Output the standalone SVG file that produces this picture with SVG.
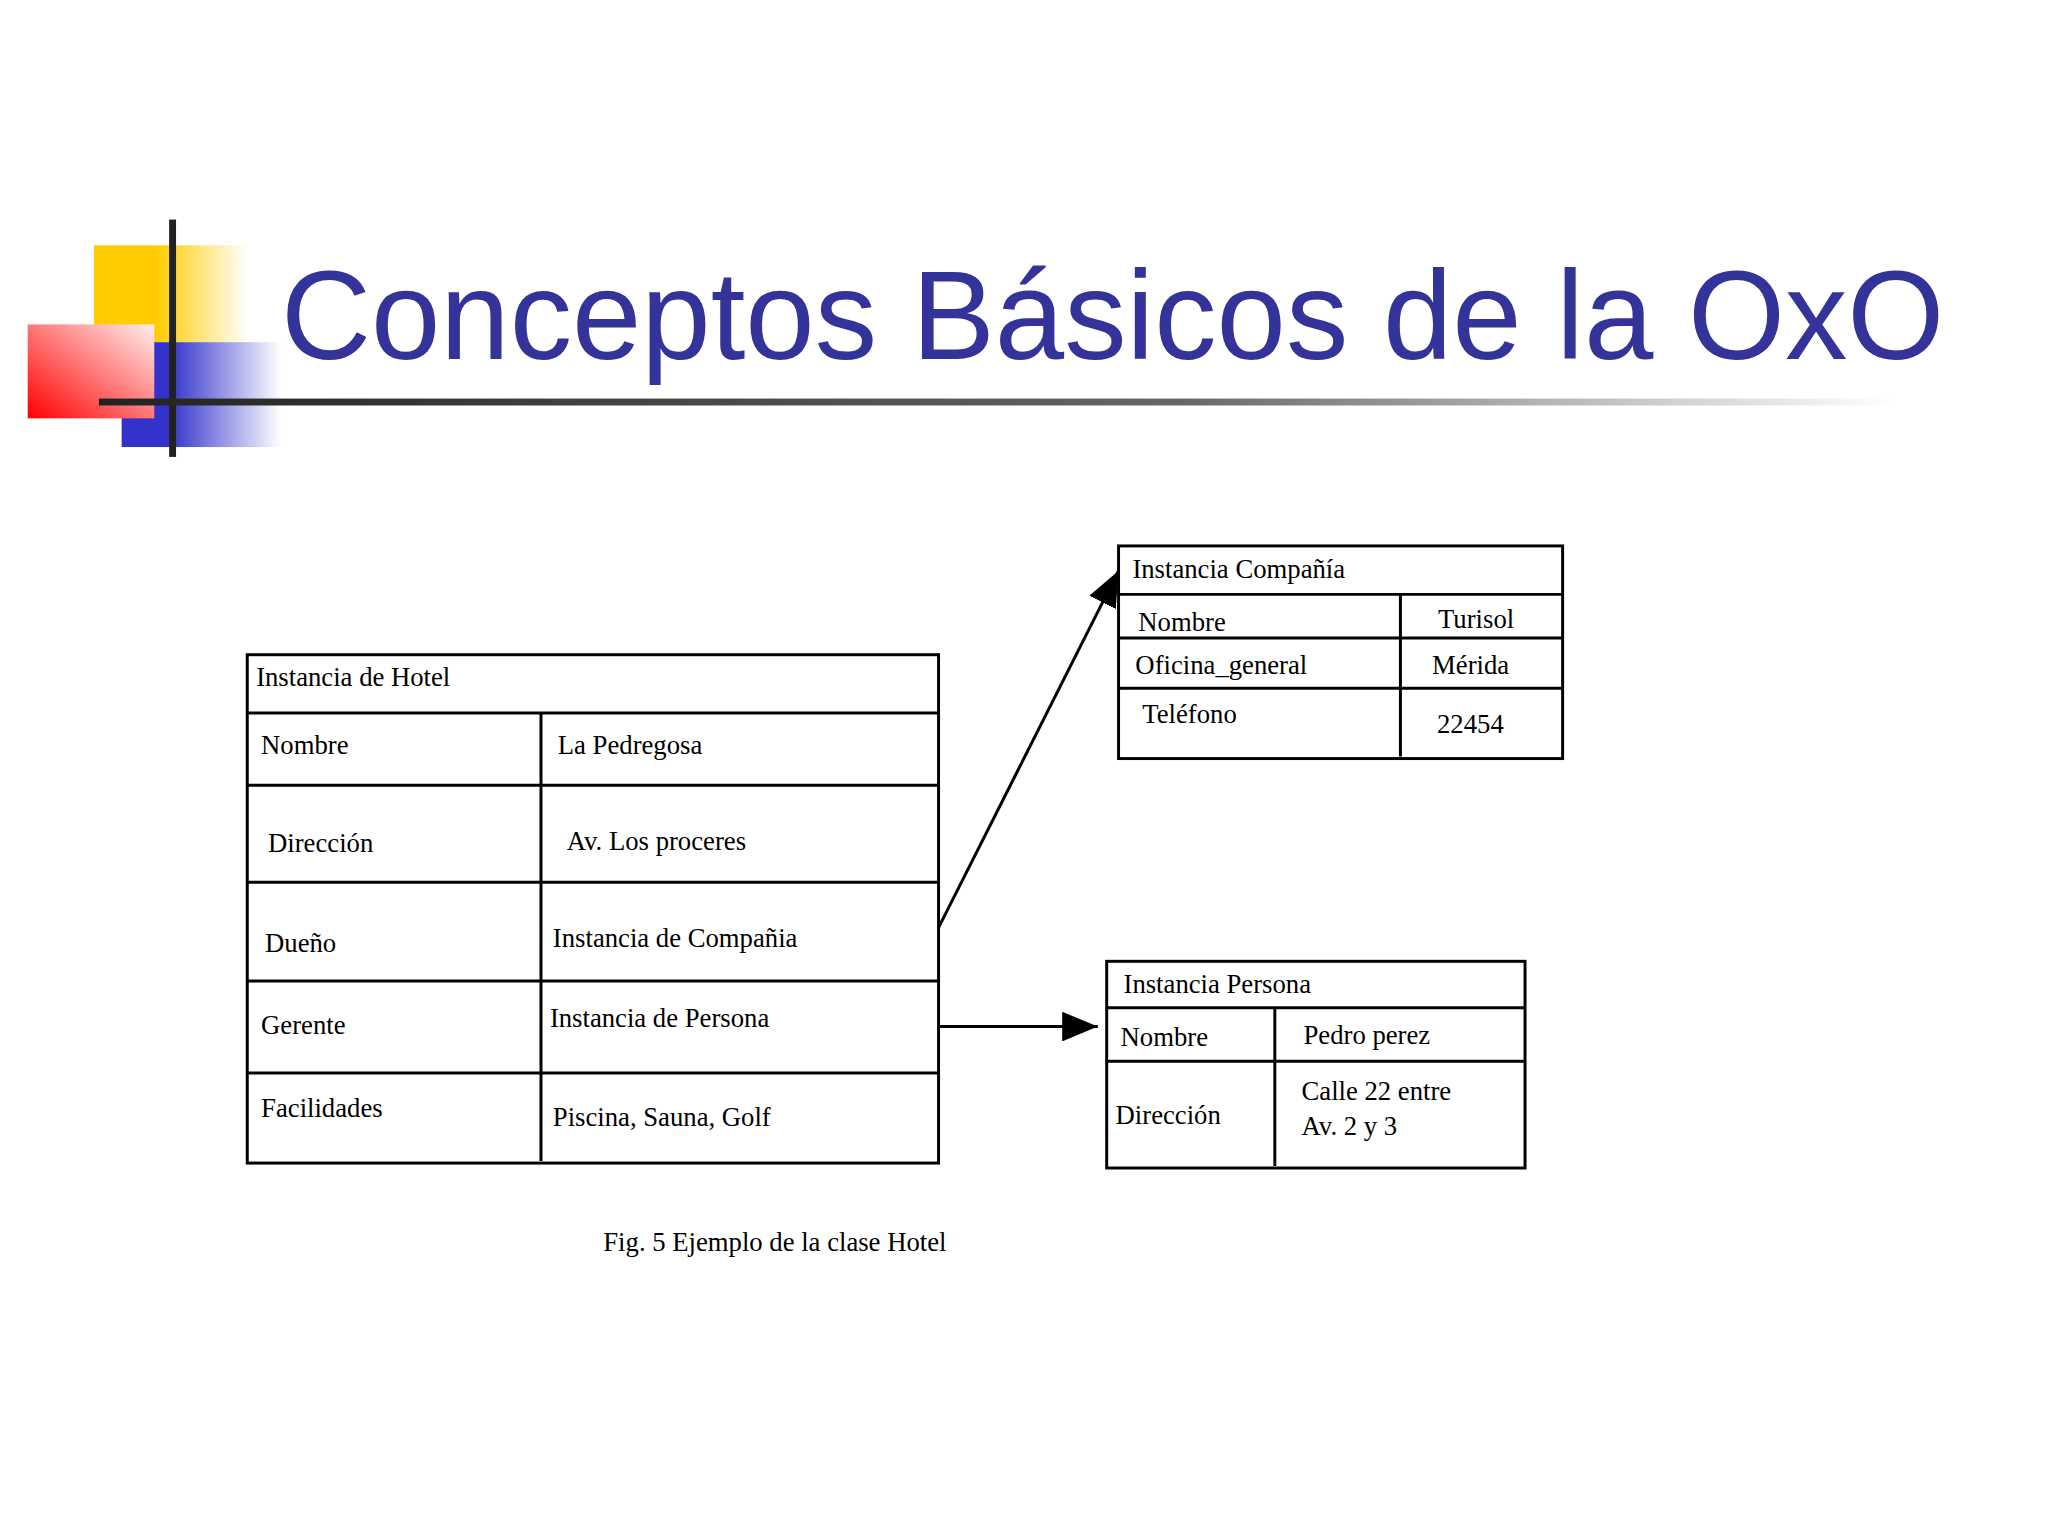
<svg xmlns="http://www.w3.org/2000/svg" width="2048" height="1536" viewBox="0 0 2048 1536">
<defs>
<linearGradient id="gy" x1="0" y1="0" x2="1" y2="0"><stop offset="0.4" stop-color="#ffcc00"/><stop offset="1" stop-color="#ffcc00" stop-opacity="0"/></linearGradient>
<linearGradient id="gb" x1="0" y1="0" x2="1" y2="0"><stop offset="0.3" stop-color="#3333cc"/><stop offset="1" stop-color="#3333cc" stop-opacity="0"/></linearGradient>
<linearGradient id="gr" x1="0" y1="1" x2="1" y2="0"><stop offset="0" stop-color="#ff0000"/><stop offset="1" stop-color="#ffeeee"/></linearGradient>
<linearGradient id="gl" x1="0" y1="0" x2="1" y2="0"><stop offset="0" stop-color="#222"/><stop offset="0.6" stop-color="#666"/><stop offset="1" stop-color="#fff"/></linearGradient>
<marker id="ah2" viewBox="0 0 10 10" refX="10" refY="5" markerWidth="36" markerHeight="30" markerUnits="userSpaceOnUse" orient="auto" preserveAspectRatio="none"><path d="M0,0 L10,5 L0,10 z" fill="#000"/></marker>
</defs>
<style>
.t{font-family:"Liberation Serif","Times New Roman",serif;font-size:27px;fill:#000}
.b{fill:#fff;stroke:#000;stroke-width:3}
.l{stroke:#000;stroke-width:3}
</style>
<rect width="2048" height="1536" fill="#fff"/>
<g transform="scale(0.989)">
<g id="logo">
<rect x="95" y="248" width="156" height="98" fill="url(#gy)"/>
<rect x="123" y="346" width="161" height="106" fill="url(#gb)"/>
<rect x="28" y="328" width="128" height="95" fill="url(#gr)"/>
<rect x="171" y="222" width="7" height="240" fill="#222"/>
<rect x="100" y="403" width="1816" height="7" fill="url(#gl)"/>
</g>
<text x="284" y="363" font-family="Liberation Sans, Arial, sans-serif" font-size="128" fill="#333399" textLength="1682" lengthAdjust="spacingAndGlyphs">Conceptos Básicos de la OxO</text>
<g id="hotel">
<rect class="b" x="250" y="662" width="699" height="514"/>
<path class="l" d="M250 721H949M250 794H949M250 892H949M250 992H949M250 1085H949M547 721V1174"/>
<text class="t" x="259" y="694">Instancia de Hotel</text>
<text class="t" x="264" y="762">Nombre</text><text class="t" x="564" y="762">La Pedregosa</text>
<text class="t" x="271" y="861">Dirección</text><text class="t" x="573" y="859">Av. Los proceres</text>
<text class="t" x="268" y="963">Dueño</text><text class="t" x="559" y="958">Instancia de Compañia</text>
<text class="t" x="264" y="1046">Gerente</text><text class="t" x="556" y="1038">Instancia de Persona</text>
<text class="t" x="264" y="1129">Facilidades</text><text class="t" x="559" y="1139">Piscina, Sauna, Golf</text>
</g>
<g id="compania">
<rect class="b" x="1131" y="552" width="449" height="215"/>
<path class="l" d="M1131 601H1580M1131 645H1580M1131 696H1580M1416 601V765"/>
<text class="t" x="1145" y="584">Instancia Compañía</text>
<text class="t" x="1151" y="638">Nombre</text><text class="t" x="1454" y="635">Turisol</text>
<text class="t" x="1148" y="682">Oficina_general</text><text class="t" x="1448" y="682">Mérida</text>
<text class="t" x="1155" y="731">Teléfono</text><text class="t" x="1453" y="741">22454</text>
</g>
<g id="persona">
<rect class="b" x="1119" y="972" width="423" height="209"/>
<path class="l" d="M1119 1019H1542M1119 1073H1542M1289 1019V1179"/>
<text class="t" x="1136" y="1004">Instancia Persona</text>
<text class="t" x="1133" y="1058">Nombre</text><text class="t" x="1318" y="1056">Pedro perez</text>
<text class="t" x="1128" y="1136">Dirección</text>
<text class="t" x="1316" y="1112">Calle 22 entre</text><text class="t" x="1316" y="1148">Av. 2 y 3</text>
</g>
<g id="connectors" fill="none">
<line x1="949" y1="938" x2="1131" y2="577" stroke="#000" stroke-width="3" marker-end="url(#ah2)"/>
<line x1="949" y1="1038" x2="1110" y2="1038" stroke="#000" stroke-width="3" marker-end="url(#ah2)"/>
</g>
<text class="t" x="610" y="1265">Fig. 5 Ejemplo de la clase Hotel</text>
</g>
</svg>
